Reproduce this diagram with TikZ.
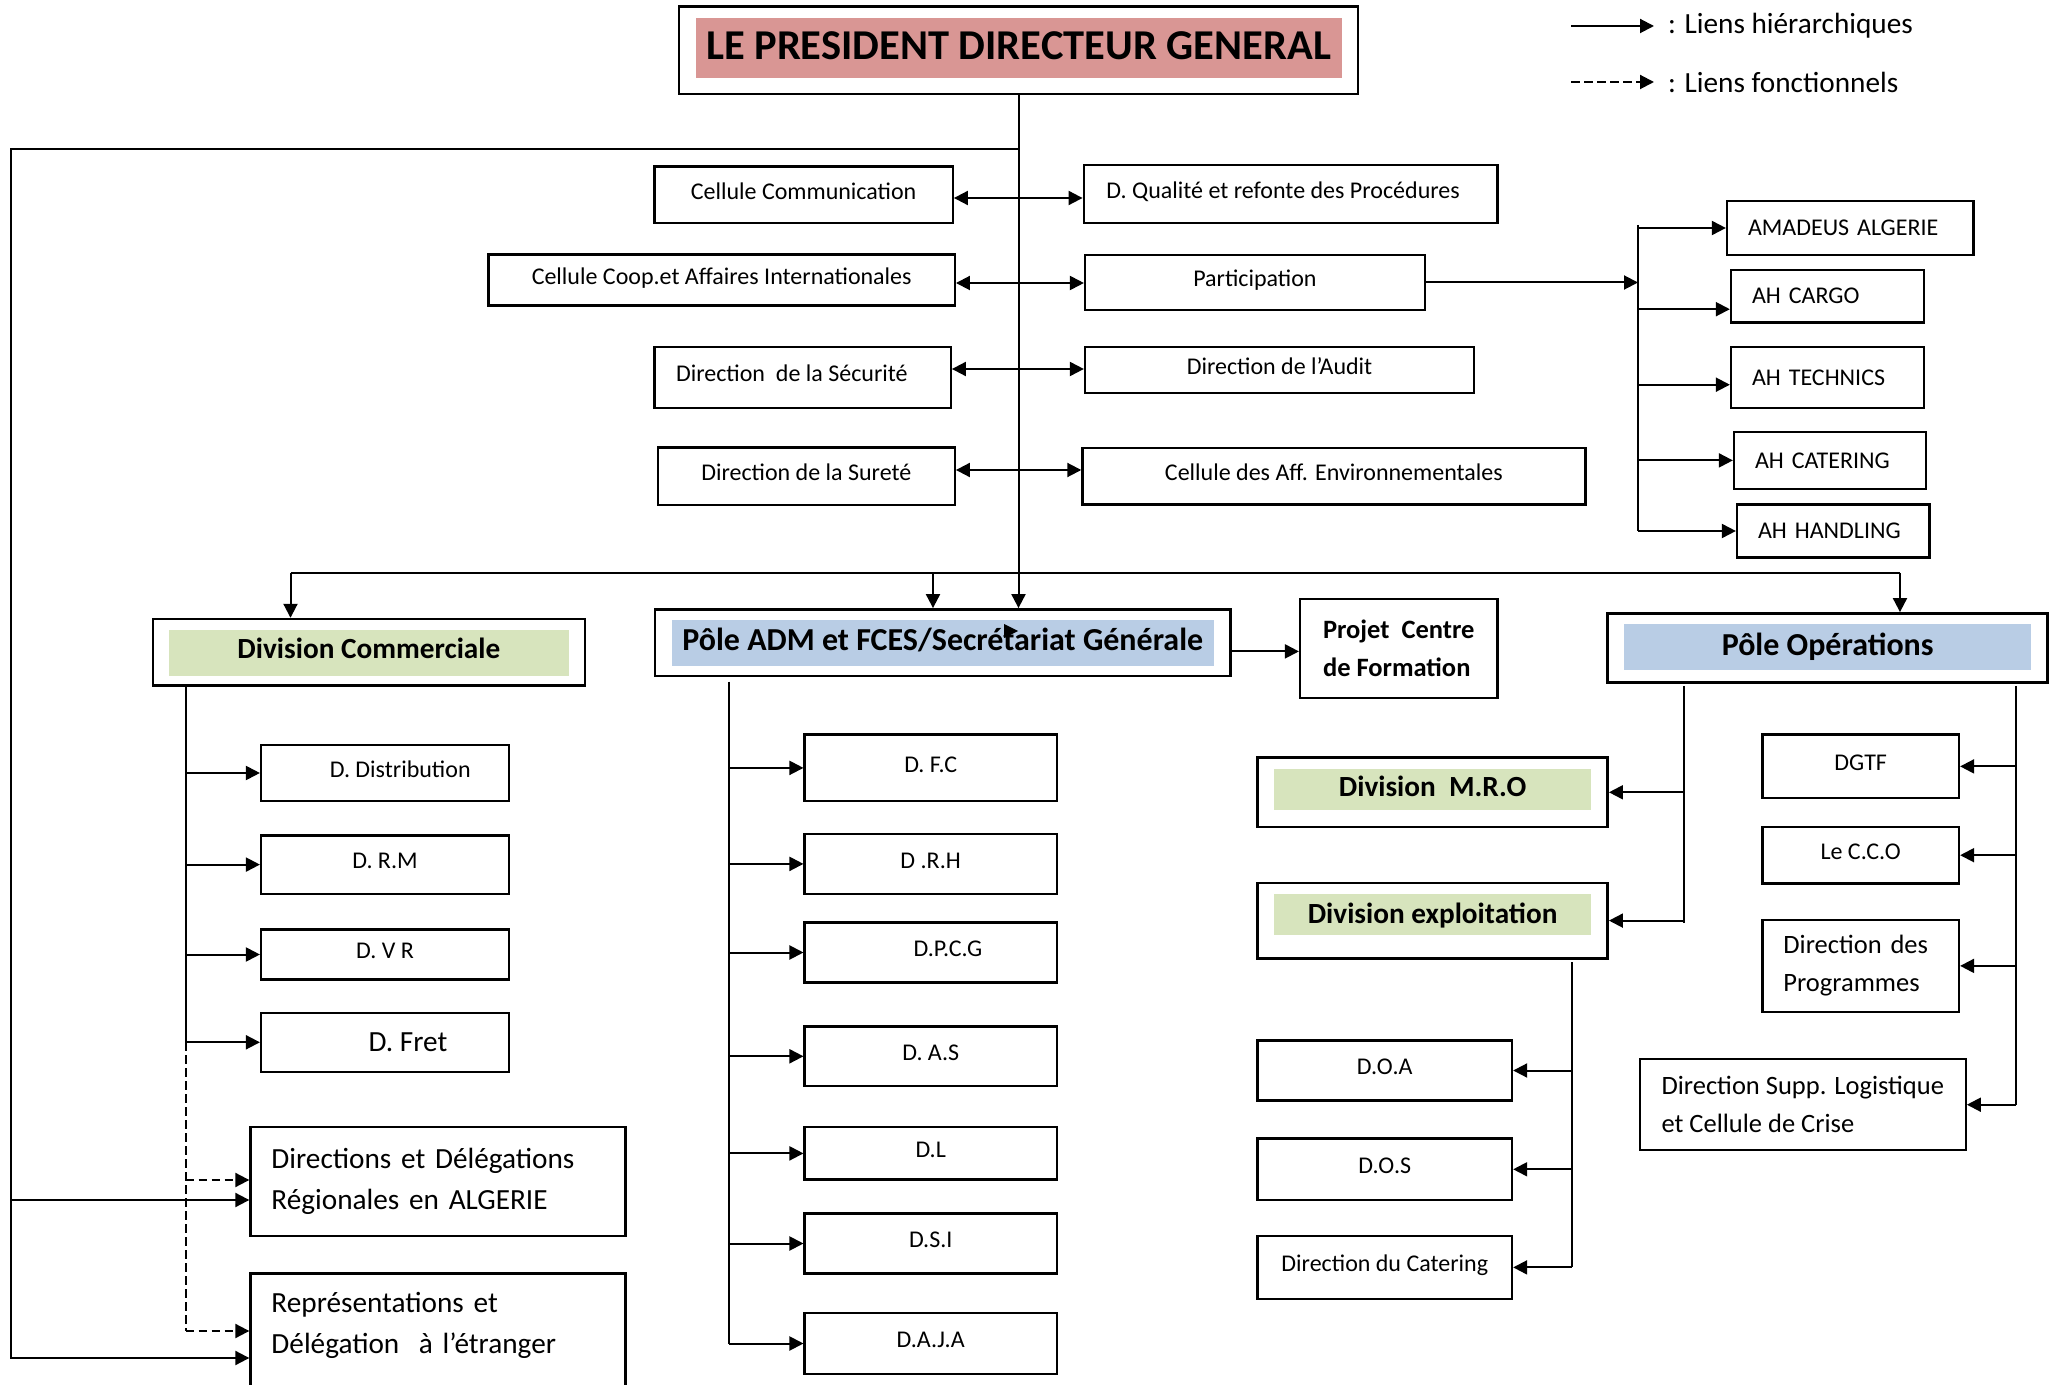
\documentclass[tikz,border=0pt]{standalone}
\usepackage{fontspec}
\setmainfont{Carlito}
\usetikzlibrary{arrows.meta,positioning}
\definecolor{pdgpink}{HTML}{D99694}
\definecolor{divgreen}{HTML}{D7E4BD}
\definecolor{poleblue}{HTML}{B9CDE5}

\begin{document}
\begin{tikzpicture}[x=.4pt,y=-.4pt,line width=.8pt,>={Triangle[length=5.6pt,width=5.6pt]},
  box/.style 2 args={draw,line width=.9pt,minimum width=#1*.4pt,minimum height=#2*.4pt,inner sep=0pt,text height=7pt,text depth=3.5pt,font=\fontsize{9.6}{11.5}\selectfont},
  mbox/.style 2 args={draw,line width=.9pt,minimum width=#1*.4pt,minimum height=#2*.4pt,inner sep=0pt,align=left,font=\fontsize{10.6}{15.2}\selectfont},
  tbox/.style 2 args={draw,line width=.9pt,text width=#1*.4pt-16.8pt,minimum height=#2*.4pt,inner xsep=8.4pt,inner ysep=0pt,align=left,font=\fontsize{9.6}{11.5}\selectfont},
  hdr/.style n args={4}{draw,line width=1pt,minimum width=#1*.4pt,minimum height=#2*.4pt,inner sep=0pt,text height=9pt,font=\bfseries\fontsize{11.7}{14}\selectfont,
    path picture={\fill[#3] ([xshift=6.6pt,yshift=-4.4pt]path picture bounding box.north west) rectangle ([xshift=-6.6pt,yshift=#4*.4pt]path picture bounding box.south east);}},
  mid/.style={font=\fontsize{10.6}{15.2}\selectfont},
  big/.style={font=\fontsize{11.7}{16.6}\selectfont},
  fn/.style={dash pattern=on 3.4pt off 1.8pt}]
\useasboundingbox (0,0) rectangle (2056,1385);

% direction generale + legende
\node[hdr={679}{87.3}{pdgpink}{16},text height=11pt,text depth=3.4pt,font=\bfseries\fontsize{17}{20}\selectfont] (pdg) at (1018.5,50.2) {LE PRESIDENT DIRECTEUR GENERAL};
\node[big,anchor=west,inner xsep=5.2pt,inner ysep=0pt] (leg1) at (1654,26) {: Liens hiérarchiques};
\node[big,anchor=west,inner xsep=5.2pt,inner ysep=0pt] (leg2) at (1654,82) {: Liens fonctionnels};
\coordinate (l1) at (1571,26);
\coordinate (l2) at (1571,82);
\draw[->] (l1) -- (leg1.west);
\draw[fn,->] (l2) -- (leg2.west);

% cellules et directions rattachees
\node[box={298.4}{56.5}] (cc) at (803.6,194.8) {Cellule Communication};
\node[box={466.3}{51}] (cai) at (721.7,280) {Cellule Coop.et Affaires Internationales};
\node[box={296.4}{61}] (dsec) at (802.6,377.5) {Direction\ \ de la Sécurité\hspace*{8.6pt}};
\node[box={297}{57.6}] (dsur) at (806.3,476.2) {Direction de la Sureté};
\node[box={413.8}{58.1}] (dq) at (1290.6,193.7) {D. Qualité et refonte des Procédures\hspace*{6pt}};
\node[box={339.7}{55}] (part) at (1254.9,282.5) {Participation};
\node[box={389}{46}] (daud) at (1279.5,370) {Direction de l'Audit};
\node[box={503}{56.6}] (cenv) at (1333.9,476.1) {Cellule des Aff. Environnementales};
\draw[<->] (cc.east |- 0,198) -- (dq.west |- 0,198);
\draw[<->] (cai.east |- 0,283) -- (part.west |- 0,283);
\draw[<->] (dsec.east |- 0,369) -- (daud.west |- 0,369);
\draw[<->] (dsur.east |- 0,470) -- (cenv.west |- 0,470);

% filiales
\node[tbox={246.6}{53.9}] (amad) at (1850.3,228) {AMADEUS ALGERIE};
\node[tbox={192.8}{52.8}] (cargo) at (1827.4,296.2) {AH CARGO};
\node[tbox={192.8}{61.3}] (tech) at (1827.4,377.7) {AH TECHNICS};
\node[tbox={192}{57.3}] (cat) at (1830,460.4) {AH CATERING};
\node[tbox={192.6}{53.2}] (hand) at (1833.3,531) {AH HANDLING};
\coordinate (ft) at (1638,225);
\draw (ft) -- (ft |- hand.west);
\draw[->] (part.east) -- (part.east -| ft);
\draw[->] (ft |- amad.west) -- (amad.west);
\draw[->] ([yshift=-5.2pt]cargo.west -| ft) -- ([yshift=-5.2pt]cargo.west);
\draw[->] ([yshift=-2.8pt]tech.west -| ft) -- ([yshift=-2.8pt]tech.west);
\draw[->] (ft |- cat.west) -- (cat.west);
\draw[->] (ft |- hand.west) -- (hand.west);

% poles et divisions
\node[hdr={432.2}{66.7}{divgreen}{10.2},text depth=4pt] (divcom) at (368.9,652.4) {Division Commerciale};
\node[hdr={575.6}{66.7}{poleblue}{10.3},text depth=3pt,font=\bfseries\fontsize{12.8}{15}\selectfont] (adm) at (942.8,642.7) {Pôle ADM et FCES/Secrétariat Générale};
\fill (1004,624) -- (1018,631) -- (1004,638) -- cycle;
\node[mbox={197.5}{99},font=\bfseries\fontsize{10.6}{15.1}\selectfont] (projet) at (1398.8,648.5) {Projet\ \ Centre\\de Formation};
\node[hdr={440}{69.3}{poleblue}{12.9},text depth=2.6pt,font=\bfseries\fontsize{12.8}{15}\selectfont] (pop) at (1827.7,648) {Pôle Opérations};
\draw[->] (adm.east |- 0,651.4) -- (projet.west |- 0,651.4);

\draw[->] (pdg.south) -- (pdg.south |- adm.north);
\coordinate (r1) at (290.5,573);
\coordinate (r2) at (933,573);
\coordinate (r3) at (1900,573);
\draw (r1) -- (r3);
\draw[->] (r1) -- (r1 |- divcom.north);
\draw[->] (r2) -- (r2 |- adm.north);
\draw[->] (r3) -- (r3 |- pop.north);

% division commerciale
\node[box={247.9}{56.4}] (ddist) at (385,773) {\hspace*{12.2pt}D. Distribution};
\node[box={247.9}{58.1}] (drm) at (385,864.6) {D. R.M};
\node[box={247.9}{49.8}] (dvr) at (385,954.5) {D. V R};
\node[box={247.9}{59},big,text height=8pt,text depth=.5pt] (dfret) at (385,1042.3) {\hspace*{18.4pt}D. Fret};
\node[tbox={375.1}{108.8},big] (ddr) at (438,1181.6) {Directions et Délégations\\Régionales en ALGERIE};
\node[tbox={375.1}{121.5},big,text height=9pt,text depth=26.5pt] (drep) at (438,1334.3) {Représentations et\\Délégation\ \ à l'étranger};
\coordinate (ct) at (185.6,685.7);
\draw (ct) -- (ct |- dfret.west);
\draw[->] (ct |- ddist.west) -- (ddist.west);
\draw[->] (ct |- drm.west) -- (drm.west);
\draw[->] (ct |- dvr.west) -- (dvr.west);
\draw[->] (ct |- dfret.west) -- (dfret.west);
\draw[fn] (ct |- dfret.west) -- (ct |- 0,1331);
\draw[fn,->] (ct |- 0,1180) -- (ddr.west |- 0,1180);
\draw[fn,->] (ct |- 0,1331) -- (drep.west |- 0,1331);
\coordinate (lk) at (1018.5,149);
\coordinate (lb) at (10.5,1358);
\coordinate (lm) at (10.5,1200);
\draw[->] (lk) -| (lb) -- (lb -| drep.west);
\draw[->] (lm) -- (lm -| ddr.west);

% pole ADM
\node[box={252.2}{66.7}] (dfc) at (930.7,767.9) {D. F.C};
\node[box={252.2}{59.7}] (drh) at (930.7,863.9) {D .R.H};
\node[box={252.2}{60.1}] (dpcg) at (930.7,952.5) {\hspace*{13.8pt}D.P.C.G};
\node[box={252.2}{59.4}] (das) at (930.7,1056.3) {D. A.S};
\node[box={252.2}{52.4}] (dl) at (930.7,1153.4) {D.L};
\node[box={252.2}{60}] (dsi) at (930.7,1243.5) {D.S.I};
\node[box={252.2}{61}] (daja) at (930.7,1343.5) {D.A.J.A};
\coordinate (at) at (728.5,681.6);
\draw (at) -- (at |- daja.west);
\draw[->] (at |- dfc.west) -- (dfc.west);
\draw[->] (at |- drh.west) -- (drh.west);
\draw[->] (at |- dpcg.west) -- (dpcg.west);
\draw[->] (at |- das.west) -- (das.west);
\draw[->] (at |- dl.west) -- (dl.west);
\draw[->] (at |- dsi.west) -- (dsi.west);
\draw[->] (at |- daja.west) -- (daja.west);

% pole operations
\node[hdr={350.2}{69.4}{divgreen}{17.5},text depth=5.9pt] (mro) at (1432.6,792.3) {Division\ \ M.R.O};
\node[hdr={350.2}{75.4}{divgreen}{23},text depth=7pt] (expl) at (1432.6,920.6) {Division exploitation};
\node[box={254.5}{60}] (doa) at (1384.8,1070.5) {D.O.A};
\node[box={254.5}{61.5}] (dos) at (1384.8,1169.3) {D.O.S};
\node[box={254.5}{62.7}] (dcat) at (1384.8,1267.4) {Direction du Catering};
\node[box={196.6}{63.7}] (dgtf) at (1860.7,766.4) {DGTF};
\node[box={196.6}{56.4}] (cco) at (1860.7,855.2) {Le C.C.O};
\node[tbox={196.6}{92.2},mid] (dprog) at (1860.7,965.9) {Direction des\\Programmes};
\node[mbox={325.9}{91.3}] (dsl) at (1802.8,1104.7) {Direction Supp. Logistique\\et Cellule de Crise};
\coordinate (ol) at (1684.4,686);
\coordinate (or) at (2015.6,686);
\coordinate (el) at (1571.6,962.4);
\draw (ol) -- (ol |- 0,923);
\draw[->] (ol |- mro.east) -- (mro.east);
\draw[->] (ol |- expl.east) -- (expl.east);
\draw (el) -- (el |- dcat.east);
\draw[->] (el |- doa.east) -- (doa.east);
\draw[->] (el |- dos.east) -- (dos.east);
\draw[->] (el |- dcat.east) -- (dcat.east);
\draw (or) -- (or |- dsl.east);
\draw[->] (or |- dgtf.east) -- (dgtf.east);
\draw[->] (or |- cco.east) -- (cco.east);
\draw[->] (or |- dprog.east) -- (dprog.east);
\draw[->] (or |- dsl.east) -- (dsl.east);
\end{tikzpicture}
\end{document}
